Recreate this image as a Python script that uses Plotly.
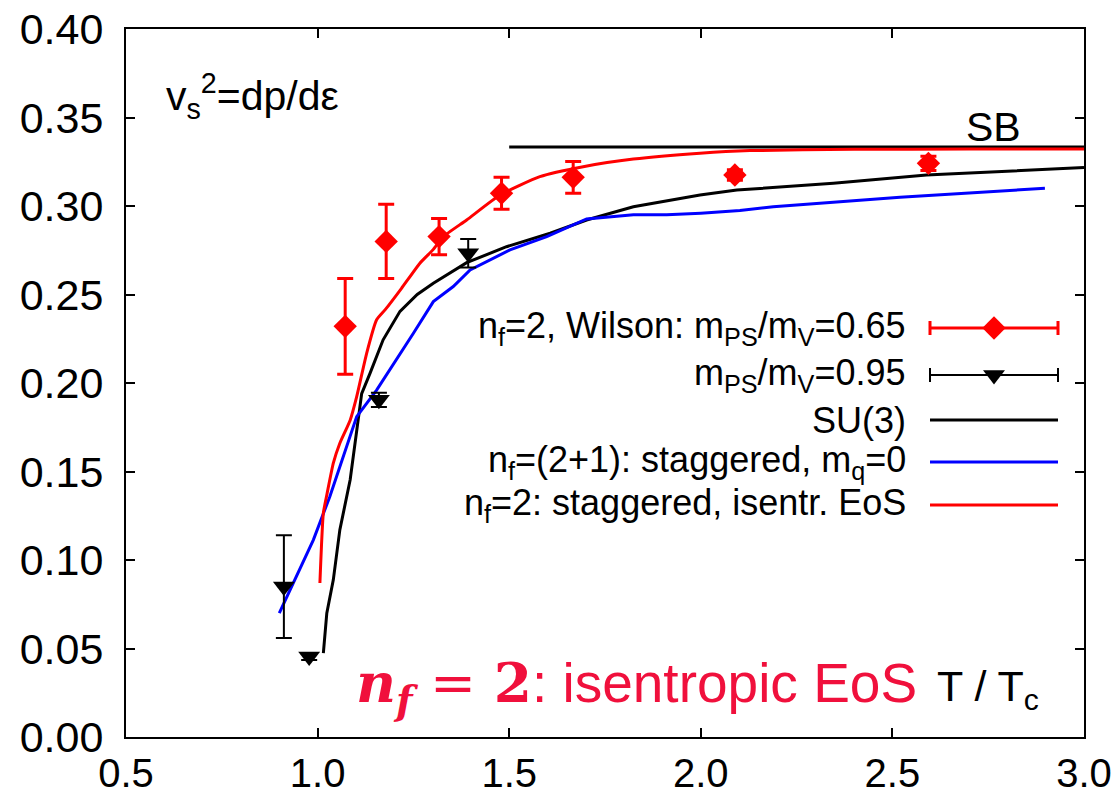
import plotly.graph_objects as go

# ---------------- data ----------------
# n_f=2 Wilson, m_PS/m_V=0.65
wil65_T = [1.072, 1.179, 1.317, 1.480, 1.667, 2.089, 2.594]
wil65_v = [0.232, 0.280, 0.2827, 0.3072, 0.3162, 0.3175, 0.3241]
wil65_e = [0.027, 0.021, 0.0103, 0.009, 0.009, 0.003, 0.004]

# m_PS/m_V=0.95
wil95_T = [0.912, 0.978, 1.160, 1.393]
wil95_v = [0.085, 0.0455, 0.1905, 0.2733]
wil95_e = [0.029, 0.002, 0.004, 0.008]

# SU(3)
su3_T = [1.015, 1.024, 1.041, 1.058, 1.085, 1.102, 1.115, 1.137, 1.171, 1.215, 1.260,
         1.302, 1.345, 1.389, 1.493, 1.607, 1.702, 1.824, 1.998, 2.094, 2.346, 2.589, 3.0]
su3_v = [0.0474, 0.070, 0.0888, 0.117, 0.1453, 0.1735, 0.194, 0.2056, 0.2244, 0.2405, 0.2500,
         0.2564, 0.262, 0.268, 0.277, 0.2846, 0.2921, 0.2996, 0.3062, 0.309, 0.3128, 0.3175, 0.3217]

# n_f=(2+1) staggered, m_q=0
stag21_T = [0.900, 0.945, 0.989, 1.032, 1.067, 1.102, 1.154, 1.206, 1.250, 1.302, 1.354,
            1.398, 1.502, 1.598, 1.702, 1.824, 1.911, 2.000, 2.102, 2.189, 2.520, 2.898]
stag21_v = [0.070, 0.0907, 0.1114, 0.1359, 0.1585, 0.181, 0.196, 0.213, 0.2281, 0.246, 0.2545,
            0.2639, 0.2752, 0.2827, 0.2927, 0.295, 0.295, 0.2959, 0.2974, 0.2996, 0.305, 0.310]

# n_f=2 staggered, isentropic EoS
isen_T = [1.006, 1.015, 1.025, 1.041, 1.058, 1.085, 1.102, 1.128, 1.154, 1.176, 1.219,
          1.267, 1.302, 1.328, 1.389, 1.476, 1.580, 1.693, 1.824, 1.998, 2.128, 2.4, 2.7, 3.0]
isen_v = [0.087, 0.1265, 0.1378, 0.1547, 0.166, 0.179, 0.1923, 0.2168, 0.2357, 0.2413, 0.2535,
          0.2677, 0.2755, 0.2827, 0.2921, 0.3062, 0.3166, 0.3222, 0.3265, 0.3298, 0.3313,
          0.3320, 0.3322, 0.3322]

# Stefan-Boltzmann limit
sb_T = [1.5, 3.0]
sb_v = [1/3, 1/3]

legend_labels = [
    "n<sub>f</sub>=2, Wilson: m<sub>PS</sub>/m<sub>V</sub>=0.65",
    "m<sub>PS</sub>/m<sub>V</sub>=0.95",
    "SU(3)",
    "n<sub>f</sub>=(2+1): staggered, m<sub>q</sub>=0",
    "n<sub>f</sub>=2: staggered, isentr. EoS",
]

# ---------------- figure ----------------
RED = "#ff0000"
BLUE = "#0000ff"
BLACK = "#000000"
FONT = "Liberation Sans, Arial, sans-serif"

fig = go.Figure()

fig.add_trace(go.Scatter(x=sb_T, y=sb_v, mode="lines",
                         line=dict(color=BLACK, width=3), showlegend=False))
fig.add_trace(go.Scatter(x=su3_T, y=su3_v, mode="lines",
                         line=dict(color=BLACK, width=3), showlegend=False))
fig.add_trace(go.Scatter(x=stag21_T, y=stag21_v, mode="lines",
                         line=dict(color=BLUE, width=3), showlegend=False))
fig.add_trace(go.Scatter(x=isen_T, y=isen_v, mode="lines",
                         line=dict(color=RED, width=3, shape="spline", smoothing=0.5),
                         showlegend=False))
fig.add_trace(go.Scatter(x=wil95_T, y=wil95_v, mode="markers",
                         marker=dict(symbol="triangle-down", size=19, color=BLACK),
                         error_y=dict(type="data", array=wil95_e, color=BLACK,
                                      thickness=2, width=8),
                         showlegend=False))
fig.add_trace(go.Scatter(x=wil65_T, y=wil65_v, mode="markers",
                         marker=dict(symbol="diamond", size=18, color=RED),
                         error_y=dict(type="data", array=wil65_e, color=RED,
                                      thickness=3, width=8),
                         showlegend=False))

# ---- hand-made key (gnuplot style: text right, sample left) on an overlay axis in pixels
PW, PH = 958, 708
key_rows = [409, 362, 317, 275, 232]   # pixel rows from plot bottom
key_x0, key_x1 = 804, 932
kc = (key_x0 + key_x1) / 2
kh = (key_x1 - key_x0) / 2

fig.add_trace(go.Scatter(x=[kc], y=[key_rows[0]], xaxis="x2", yaxis="y2", mode="markers",
                         marker=dict(symbol="diamond", size=18, color=RED),
                         error_x=dict(type="constant", value=kh, color=RED, thickness=3, width=7),
                         showlegend=False, hoverinfo="skip"))
fig.add_trace(go.Scatter(x=[kc], y=[key_rows[1]], xaxis="x2", yaxis="y2", mode="markers",
                         marker=dict(symbol="triangle-down", size=19, color=BLACK),
                         error_x=dict(type="constant", value=kh, color=BLACK, thickness=2, width=7),
                         showlegend=False, hoverinfo="skip"))
for row, col in zip(key_rows[2:], [BLACK, BLUE, RED]):
    fig.add_trace(go.Scatter(x=[key_x0, key_x1], y=[row, row], xaxis="x2", yaxis="y2",
                             mode="lines", line=dict(color=col, width=3),
                             showlegend=False, hoverinfo="skip"))

annotations = []
for row, lab in zip(key_rows, legend_labels):
    annotations.append(dict(x=782, y=row, xref="x2", yref="y2", text=lab,
                            xanchor="right", yanchor="middle", showarrow=False,
                            font=dict(family=FONT, size=36, color=BLACK)))

annotations += [
    dict(x=0.04, y=0.905, xref="paper", yref="paper", xanchor="left", yanchor="middle",
         text="v<sub>s</sub><sup>2</sup>=dp/dε", showarrow=False,
         font=dict(family=FONT, size=41, color=BLACK)),
    dict(x=0.936, y=0.862, xref="paper", yref="paper", xanchor="right", yanchor="middle",
         text="SB", showarrow=False, font=dict(family=FONT, size=41, color=BLACK)),
    dict(x=0.955, y=0.068, xref="paper", yref="paper", xanchor="right", yanchor="middle",
         text="T / T<sub>c</sub>", showarrow=False,
         font=dict(family=FONT, size=43, color=BLACK)),
    dict(x=0.828, y=0.072, xref="paper", yref="paper", xanchor="right", yanchor="middle",
         text=("<span style=\"font-family:'DejaVu Serif'\"><b><i>n</i></b><sub><b><i>f</i></b></sub>"
               " = <b>2</b></span>: isentropic EoS"),
         showarrow=False, font=dict(family=FONT, size=55, color="#f0103c")),
]

axis_common = dict(showline=True, linecolor=BLACK, linewidth=2, mirror="ticks",
                   ticks="inside", ticklen=9, tickwidth=2, tickcolor=BLACK,
                   showgrid=False, zeroline=False, automargin=False)

fig.update_layout(
    width=1117, height=801,
    margin=dict(l=126, r=33, t=29, b=64, autoexpand=False),
    paper_bgcolor="white", plot_bgcolor="white",
    showlegend=False,
    xaxis=dict(range=[0.5, 3.0], dtick=0.5, tick0=0.5, tickformat=".1f",
               ticklabelstandoff=0, tickfont=dict(family=FONT, size=40, color=BLACK),
               **axis_common),
    yaxis=dict(range=[0.0, 0.4], dtick=0.05, tick0=0.0, tickformat=".2f",
               ticklabelstandoff=12, tickfont=dict(family=FONT, size=43, color=BLACK),
               **axis_common),
    xaxis2=dict(range=[0, PW], overlaying="x", visible=False, fixedrange=True),
    yaxis2=dict(range=[0, PH], overlaying="y", visible=False, fixedrange=True),
    annotations=annotations,
)

fig.write_html("out.html")
